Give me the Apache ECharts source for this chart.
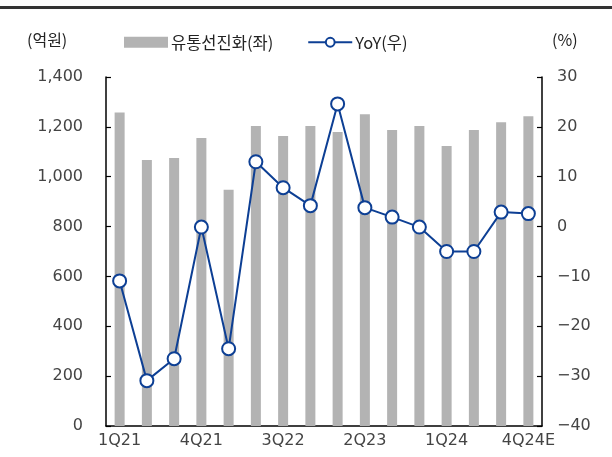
<!DOCTYPE html>
<html><head><meta charset="utf-8">
<script src="https://cdn.jsdelivr.net/npm/echarts@6/dist/echarts.min.js"></script>
<style>html,body{margin:0;padding:0;background:#fff}#c{width:612px;height:457px}</style>
</head><body><div id="c"></div>
<script>
const categories = ['1Q21','2Q21','3Q21','4Q21','1Q22','2Q22','3Q22','4Q22','1Q23','2Q23','3Q23','4Q23','1Q24','2Q24','3Q24','4Q24E'];
const salesValues = [1258, 1067, 1075, 1155, 948, 1203, 1163, 1203, 1179, 1251, 1187, 1203, 1123, 1187, 1218, 1243];
const yoyValues = [-10.9, -30.9, -26.5, -0.1, -24.5, 13.0, 7.8, 4.2, 24.6, 3.8, 1.9, -0.1, -5.0, -5.0, 2.9, 2.6];
const leftTicks = {min: 0, max: 1400, interval: 200};
const rightTicks = {min: -40, max: 30, interval: 10};

const numFont = '"DejaVu Sans", sans-serif';
const krFont = '"Noto Sans CJK KR", sans-serif';
const chart = echarts.init(document.getElementById('c'), null, {renderer: 'canvas'});
chart.setOption({
  animation: false,
  backgroundColor: '#fff',
  grid: {left: 106, right: 70, top: 77, bottom: 31},
  legend: {
    left: 124, top: 34, padding: 0,
    itemGap: 34,
    itemWidth: 44, itemHeight: 11,
    textStyle: {fontFamily: krFont, fontSize: 16.5, color: '#222', padding: [0,0,0,-2]},
    data: [{name: '유통선진화(좌)', icon: 'rect'}, {name: 'YoY(우)'}]
  },
  graphic: [
    {type: 'rect', shape: {x: 0, y: 6, width: 612, height: 3}, style: {fill: '#333'}},
    {type: 'text', left: 27, top: 32, style: {text: '(억원)', font: '16px "Noto Sans CJK KR"', fill: '#222'}},
    {type: 'text', left: 552, top: 32, style: {text: '(%)', font: '16px "Noto Sans CJK KR"', fill: '#222'}}
  ],
  xAxis: {
    type: 'category', data: categories, boundaryGap: true,
    axisLine: {lineStyle: {color: '#000', width: 1.5}},
    axisTick: {inside: true, length: 5, interval: 0, lineStyle: {color: '#000', width: 1.2}},
    axisLabel: {interval: 2, color: '#444', fontFamily: numFont, fontSize: 16, margin: 7}
  },
  yAxis: [
    {type: 'value', min: leftTicks.min, max: leftTicks.max, interval: leftTicks.interval,
     axisLine: {show: true, lineStyle: {color: '#000', width: 1.5}},
     axisTick: {show: true, inside: true, length: 5, lineStyle: {color: '#000', width: 1.2}},
     splitLine: {show: false},
     axisLabel: {color: '#444', fontFamily: numFont, fontSize: 16, margin: 23,
       formatter: v => v.toLocaleString('en-US')}},
    {type: 'value', min: rightTicks.min, max: rightTicks.max, interval: rightTicks.interval,
     position: 'right',
     axisLine: {show: true, lineStyle: {color: '#000', width: 1.5}},
     axisTick: {show: true, inside: true, length: 5, lineStyle: {color: '#000', width: 1.2}},
     splitLine: {show: false},
     axisLabel: {color: '#444', fontFamily: numFont, fontSize: 16, margin: 15,
       formatter: v => v < 0 ? '\u2212' + Math.abs(v) : String(v)}}
  ],
  series: [
    {name: '유통선진화(좌)', type: 'bar', yAxisIndex: 0, data: salesValues, barWidth: 10,
     itemStyle: {color: '#b3b3b3'}},
    {name: 'YoY(우)', type: 'line', yAxisIndex: 1, data: yoyValues,
     symbol: 'circle', symbolSize: 13,
     lineStyle: {color: '#0d3f94', width: 2},
     itemStyle: {color: '#fff', borderColor: '#0d3f94', borderWidth: 2}}
  ]
});
</script></body></html>
